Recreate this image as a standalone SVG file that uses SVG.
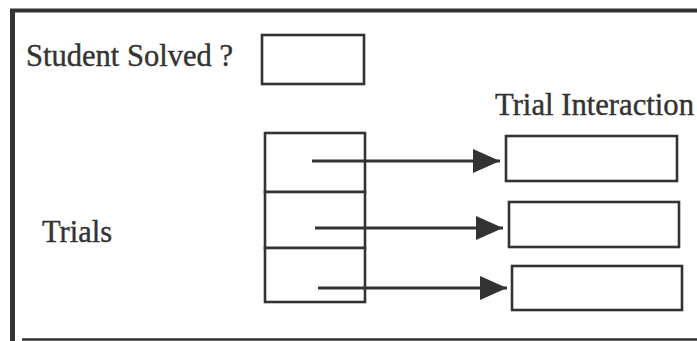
<svg xmlns="http://www.w3.org/2000/svg" width="697" height="341" viewBox="0 0 697 341">
  <defs>
    <style>
      .frame { stroke: #333; fill: none; }
      .box { fill: #fff; stroke: #333; stroke-width: 2.6; }
      .lbl { font-family: "Liberation Serif", "Times New Roman", serif; font-size: 31px; fill: #333; stroke: #333; stroke-width: 0.4; }
      .link { stroke: #333; stroke-width: 3; fill: none; }
    </style>
    <marker id="head" markerUnits="userSpaceOnUse" markerWidth="28" markerHeight="26" refX="27" refY="13" orient="auto">
      <path d="M0,1 L27,13 L0,25 Z" fill="#333"/>
    </marker>
  </defs>

  <rect width="697" height="341" fill="#fff"/>

  <!-- outer frame: left, top and bottom edges -->
  <g id="frame">
    <line class="frame" x1="12.5" y1="9" x2="12.5" y2="341" stroke-width="5"/>
    <line class="frame" x1="10" y1="10.5" x2="697" y2="10.5" stroke-width="4"/>
    <line class="frame" x1="22" y1="339.5" x2="697" y2="339.5" stroke-width="2.5"/>
  </g>

  <g id="solved">
    <text class="lbl" x="26" y="66" textLength="207" lengthAdjust="spacingAndGlyphs">Student Solved ?</text>
    <rect class="box" x="262" y="35" width="102" height="49"/>
  </g>

  <g id="interaction-label">
    <text class="lbl" x="495" y="115" textLength="199" lengthAdjust="spacingAndGlyphs">Trial Interaction</text>
  </g>

  <g id="trials">
    <text class="lbl" x="42" y="242" textLength="70" lengthAdjust="spacingAndGlyphs">Trials</text>
    <rect class="box" x="265" y="133" width="100" height="59"/>
    <rect class="box" x="265" y="192" width="100" height="56"/>
    <rect class="box" x="265" y="248" width="100" height="54"/>
  </g>

  <g id="interaction-1"><rect class="box" x="506" y="136" width="171" height="45"/></g>
  <g id="interaction-2"><rect class="box" x="509" y="202" width="170" height="45"/></g>
  <g id="interaction-3"><rect class="box" x="512" y="266" width="170" height="44"/></g>

  <g id="connectors">
    <line class="link" x1="312" y1="161" x2="500" y2="161" marker-end="url(#head)"/>
    <line class="link" x1="315" y1="228" x2="503" y2="228" marker-end="url(#head)"/>
    <line class="link" x1="318" y1="288" x2="507" y2="288" marker-end="url(#head)"/>
  </g>
</svg>
